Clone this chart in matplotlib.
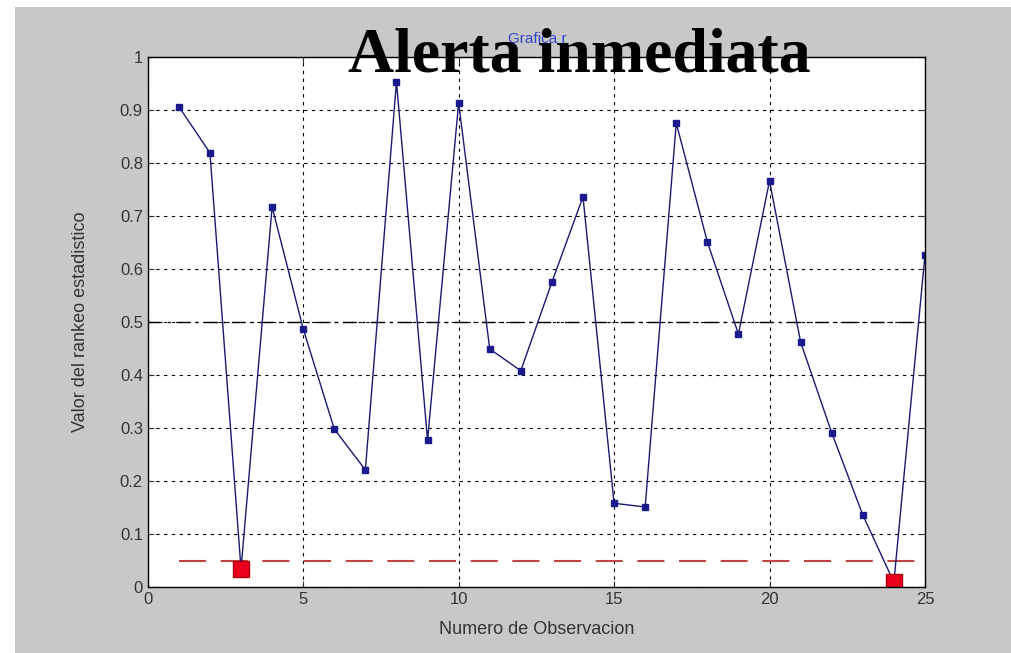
import matplotlib
matplotlib.use("Agg")
import matplotlib.pyplot as plt
from matplotlib.patches import Rectangle
import numpy as np

obs = list(range(1, 26))
rank_values = [0.906, 0.819, 0.034, 0.717, 0.487, 0.298, 0.221, 0.953, 0.277, 0.913,
               0.449, 0.408, 0.575, 0.736, 0.158, 0.151, 0.875, 0.651, 0.477, 0.766,
               0.462, 0.291, 0.136, 0.009, 0.626]
alert_obs = [3, 24]
alert_values = [0.034, 0.009]
threshold = 0.05
midline = 0.5

fig = plt.figure(figsize=(10.12, 6.53), dpi=100, facecolor="#c8c8c8")
# white border strips (top and left) as in the reference scan
fig.patches.append(Rectangle((0, 1 - 7 / 653), 1, 7 / 653, transform=fig.transFigure,
                             facecolor="white", edgecolor="none", zorder=0))
fig.patches.append(Rectangle((0, 0), 15 / 1012, 1, transform=fig.transFigure,
                             facecolor="white", edgecolor="none", zorder=0))

ax = fig.add_axes([0.146, 0.101, 0.768, 0.812])
ax.set_facecolor("white")

ax.grid(True, color="black", linestyle=(0, (3, 4)), linewidth=0.8)
ax.axhline(midline, color="black", linestyle=(0, (10, 4, 2, 4)), linewidth=1.0)
ax.plot([obs[0], obs[-1]], [threshold, threshold], color="#c04545", linestyle=(0, (13, 7)), linewidth=1.5)
ax.plot(obs, rank_values, color="#1a1a6e", linewidth=1.0, marker="s", markersize=5,
        markerfacecolor="#1a1a8c", markeredgecolor="#1a1a8c")
ax.plot(alert_obs, alert_values, linestyle="none", marker="s", markersize=11,
        markerfacecolor="#e8001c", markeredgecolor="#b00010")

ax.set_xlim(0, 25)
ax.set_ylim(0, 1)
ax.set_xticks([0, 5, 10, 15, 20, 25])
ax.set_yticks(np.round(np.arange(0, 1.01, 0.1), 1))
ax.set_yticklabels(["0", "0.1", "0.2", "0.3", "0.4", "0.5", "0.6", "0.7", "0.8", "0.9", "1"])
ax.tick_params(direction="in", labelsize=12, colors="#333333", length=4, top=True, right=True,
               labeltop=False, labelright=False)
for lab in ax.get_xticklabels() + ax.get_yticklabels():
    lab.set_family("Liberation Sans")
for s in ax.spines.values():
    s.set_linewidth(1.0)

ax.set_xlabel("Numero de Observacion", fontsize=13, family="Liberation Sans", color="#333333",
              labelpad=10)
ax.set_ylabel("Valor del rankeo estadistico", fontsize=13, family="Liberation Sans", color="#333333",
              labelpad=22)

fig.text(0.531, 1 - 43 / 653, "Grafica r", color="#3344cc", fontsize=11, family="Liberation Sans",
         ha="center", va="baseline")
fig.text(0.572, 1 - 72 / 653, "Alerta inmediata", color="black", fontsize=46, family="Liberation Serif",
         weight="bold", ha="center", va="baseline")

fig.savefig("out.png", dpi=100, facecolor=fig.get_facecolor())
